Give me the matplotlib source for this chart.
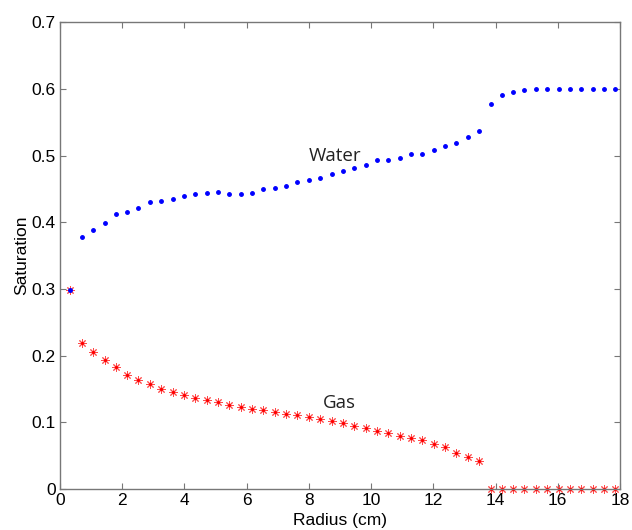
import matplotlib.pyplot as plt

# Radius of each grid cell (cm)
radius = [0.33, 0.70, 1.06, 1.43, 1.79, 2.16, 2.52, 2.89, 3.25, 3.62,
          3.98, 4.35, 4.71, 5.08, 5.44, 5.81, 6.17, 6.54, 6.90, 7.27,
          7.63, 8.00, 8.36, 8.73, 9.09, 9.46, 9.82, 10.19, 10.55, 10.92,
          11.28, 11.65, 12.01, 12.38, 12.74, 13.11, 13.47, 13.84, 14.20, 14.57,
          14.93, 15.30, 15.66, 16.03, 16.39, 16.76, 17.12, 17.49, 17.85]

water = [0.298, 0.378, 0.388, 0.399, 0.412, 0.415, 0.422, 0.431, 0.432, 0.435,
         0.440, 0.443, 0.444, 0.446, 0.443, 0.442, 0.444, 0.450, 0.452, 0.455,
         0.460, 0.463, 0.466, 0.472, 0.477, 0.481, 0.486, 0.493, 0.494, 0.497,
         0.502, 0.503, 0.509, 0.515, 0.519, 0.528, 0.537, 0.577, 0.591, 0.596,
         0.599, 0.600, 0.600, 0.600, 0.600, 0.600, 0.600, 0.600, 0.600]

gas = [0.298, 0.219, 0.205, 0.194, 0.183, 0.171, 0.163, 0.158, 0.150, 0.145,
       0.141, 0.137, 0.133, 0.130, 0.126, 0.123, 0.120, 0.118, 0.115, 0.113,
       0.111, 0.108, 0.105, 0.102, 0.0995, 0.094, 0.091, 0.087, 0.084, 0.080,
       0.076, 0.073, 0.067, 0.063, 0.055, 0.048, 0.043, 0.0, 0.0, 0.0,
       0.0, 0.0, 0.0, 0.0, 0.0, 0.0, 0.0, 0.0, 0.0]

plt.rcParams['font.family'] = ['Liberation Sans', 'DejaVu Sans']

fig = plt.figure(figsize=(6.32, 5.30), dpi=100)
ax = fig.add_axes([0.095, 0.077, 0.886, 0.881])

ax.plot(radius, gas, linestyle='none', marker=(8, 2, 0), color='#ff4a4a',
        markersize=6, markeredgewidth=0.7, clip_on=False)
ax.plot(radius, gas, linestyle='none', marker='.', color='#ff0000',
        markersize=2.5, clip_on=False)
ax.plot(radius, water, linestyle='none', marker='.', color='#0000ff',
        markersize=5, clip_on=False)

ax.text(8.0, 0.50, "Water", fontsize=13.5, family=['Open Sans', 'DejaVu Sans'],
        color='#222222', va='center', ha='left')
ax.text(8.45, 0.129, "Gas", fontsize=13.5, family=['Open Sans', 'DejaVu Sans'],
        color='#222222', va='center', ha='left')

ax.set_xlim(0, 18)
ax.set_ylim(0, 0.7)
ax.set_xticks(range(0, 19, 2))
ax.set_yticks([0, 0.1, 0.2, 0.3, 0.4, 0.5, 0.6, 0.7])
ax.set_yticklabels(['0', '0.1', '0.2', '0.3', '0.4', '0.5', '0.6', '0.7'])

ax.tick_params(direction='in', top=True, right=True, length=4, width=0.8,
               color='#777777', labelsize=12.5, pad=3)
for s in ax.spines.values():
    s.set_color('#777777')
    s.set_linewidth(1.0)

ax.set_xlabel("Radius (cm)", fontsize=12.5, labelpad=3)
ax.set_ylabel("Saturation", fontsize=12.5, labelpad=2)

fig.savefig("out.png", dpi=100)
